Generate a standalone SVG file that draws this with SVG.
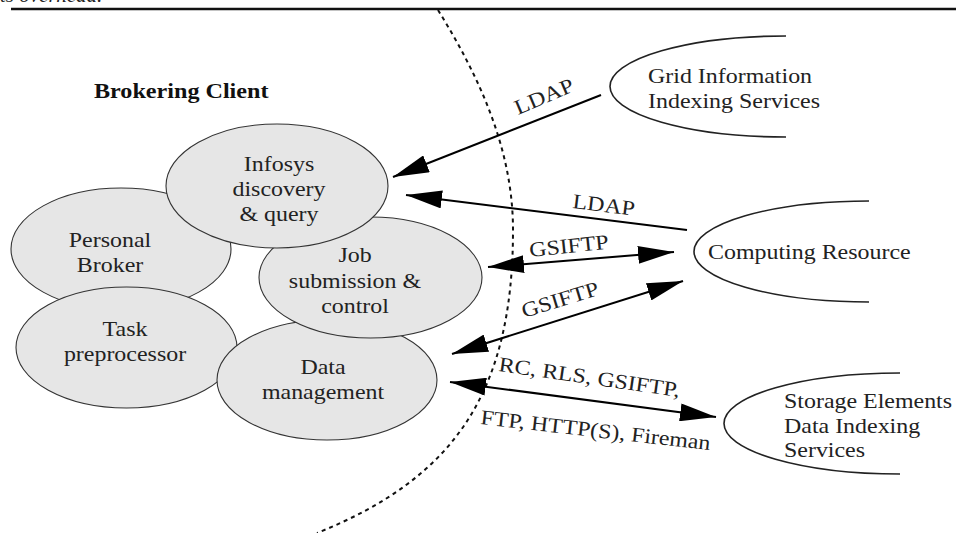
<svg xmlns="http://www.w3.org/2000/svg" width="956" height="533" viewBox="0 0 956 533">
<style>
.t{font-family:"Liberation Serif","Times New Roman",serif;font-size:21px;fill:#222}
.b{font-weight:bold;fill:#111}
.el{fill:#e6e6e6;stroke:#333;stroke-width:1.1}
.half{fill:none;stroke:#222;stroke-width:1.6}
.arr{fill:none;stroke:#000;stroke-width:2}
.bd{fill:none;stroke:#111;stroke-width:2;stroke-dasharray:4 4}
</style>
<defs>
<marker id="ah" viewBox="0 0 36 18" refX="36" refY="9" markerWidth="36" markerHeight="18" markerUnits="userSpaceOnUse" orient="auto-start-reverse">
<path d="M0,0 L36,9 L0,18 z" fill="#000"/>
</marker>
</defs>
<rect width="956" height="533" fill="#fff"/>
<text class="t" font-style="italic" x="0" y="2">ts overhead.</text>
<line x1="11" y1="9" x2="956" y2="9" stroke="#111" stroke-width="2.5"/>
<path id="boundary" class="bd" d="M438,10 C480,78 513,150 513,230 C513,390 456.5,477.5 317,533"/>
<text class="t b" transform="translate(94,98) scale(1.15,1)">Brokering Client</text>

<g id="personal-broker">
<ellipse class="el" cx="121" cy="249" rx="110" ry="61"/>
<text class="t" text-anchor="middle" transform="translate(110,0) scale(1.14,1)"><tspan x="0" y="247">Personal</tspan><tspan x="0" y="272">Broker</tspan></text>
</g>
<g id="task-preprocessor">
<ellipse class="el" cx="126.5" cy="347.5" rx="110.5" ry="60.5"/>
<text class="t" text-anchor="middle" transform="translate(125,0) scale(1.14,1)"><tspan x="0" y="336">Task</tspan><tspan x="0" y="361">preprocessor</tspan></text>
</g>
<g id="data-management">
<ellipse class="el" cx="327" cy="380" rx="110" ry="60"/>
<text class="t" text-anchor="middle" transform="translate(323,0) scale(1.14,1)"><tspan x="0" y="374">Data</tspan><tspan x="0" y="399">management</tspan></text>
</g>
<g id="job-submission">
<ellipse class="el" cx="370.5" cy="277.5" rx="111.5" ry="60.5"/>
<text class="t" text-anchor="middle" transform="translate(355,0) scale(1.14,1)"><tspan x="0" y="262">Job</tspan><tspan x="0" y="288">submission &amp;</tspan><tspan x="0" y="313">control</tspan></text>
</g>
<g id="infosys">
<ellipse class="el" cx="277" cy="186" rx="111" ry="62"/>
<text class="t" text-anchor="middle" transform="translate(279,0) scale(1.14,1)"><tspan x="0" y="171">Infosys</tspan><tspan x="0" y="196">discovery</tspan><tspan x="0" y="221">&amp; query</tspan></text>
</g>

<g id="grid-information">
<path class="half" d="M786,36 A176,50.5 0 0 0 786,137"/>
<text class="t" transform="translate(648,0) scale(1.14,1)"><tspan x="0" y="83">Grid Information</tspan><tspan x="0" y="108">Indexing Services</tspan></text>
</g>
<g id="computing-resource">
<path class="half" d="M869,201 A175,50.5 0 0 0 869,302"/>
<text class="t" transform="translate(708,259) scale(1.14,1)">Computing Resource</text>
</g>
<g id="storage-elements">
<path class="half" d="M900,373 A176,50.5 0 0 0 900,474"/>
<text class="t" transform="translate(784,0) scale(1.14,1)"><tspan x="0" y="408">Storage Elements</tspan><tspan x="0" y="433">Data Indexing</tspan><tspan x="0" y="457">Services</tspan></text>
</g>

<g id="connectors">
<path class="arr" d="M601,95 L393,177" marker-end="url(#ah)"/>
<path class="arr" d="M687,230 L406,195" marker-end="url(#ah)"/>
<path class="arr" d="M488,267 L674,252" marker-start="url(#ah)" marker-end="url(#ah)"/>
<path class="arr" d="M452,354 L683,281" marker-start="url(#ah)" marker-end="url(#ah)"/>
<path class="arr" d="M450,382 L716,417" marker-start="url(#ah)" marker-end="url(#ah)"/>
<text class="t" transform="translate(518,115) rotate(-23) scale(1.14,1)">LDAP</text>
<text class="t" transform="translate(572,208) rotate(7) scale(1.14,1)">LDAP</text>
<text class="t" transform="translate(530,257) rotate(-6) scale(1.14,1)">GSIFTP</text>
<text class="t" transform="translate(524,318) rotate(-17) scale(1.14,1)">GSIFTP</text>
<text class="t" transform="translate(498,371) rotate(8.2) scale(1.14,1)">RC, RLS, GSIFTP,</text>
<text class="t" transform="translate(480,424) rotate(6.5) scale(1.14,1)">FTP, HTTP(S), Fireman</text>
</g>
</svg>
